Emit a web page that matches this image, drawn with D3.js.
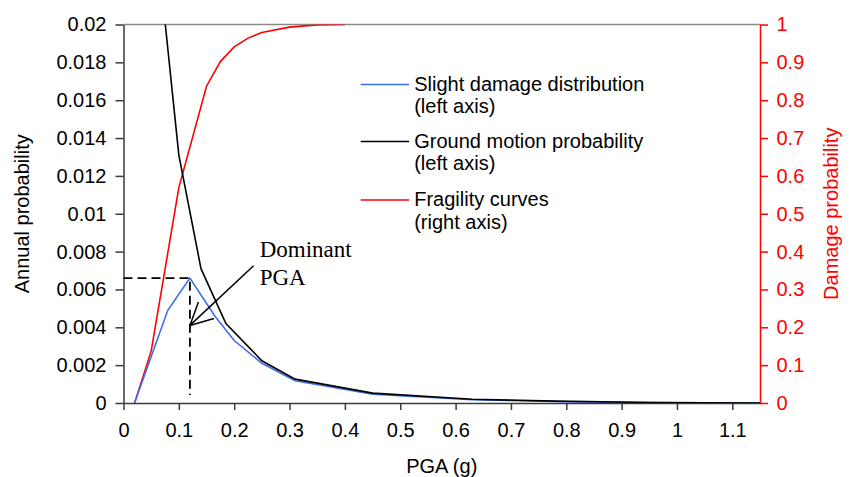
<!DOCTYPE html>
<html>
<head>
<meta charset="utf-8">
<script src="https://cdn.jsdelivr.net/npm/d3@7"></script>
<style>
  body { margin: 0; background: #fff; }
  svg { display: block; font-family: "Liberation Sans", Arial, sans-serif; }
</style>
</head>
<body>
<svg class="chart" width="851" height="477"></svg>
<script>
// values
var slightX = [0.02, 0.08, 0.12, 0.165, 0.2, 0.25, 0.31, 0.45, 0.63, 0.8, 0.95, 1.15];
var slightY = [0, 0.0049, 0.0066, 0.0046, 0.0033, 0.0021, 0.00118, 0.00046, 0.00017, 0.00007, 0.00002, 0];

var groundX = [0.05, 0.1, 0.14, 0.185, 0.25, 0.31, 0.45, 0.63, 0.78, 0.95, 1.15];
var groundY = [0.0272, 0.0131, 0.0071, 0.0042, 0.00223, 0.00126, 0.00052, 0.0002, 0.0001, 0.00003, 0];

var fragX = [0.02, 0.05, 0.1, 0.15, 0.175, 0.2, 0.225, 0.25, 0.3, 0.35, 0.4];
var fragY = [0, 0.137, 0.569, 0.837, 0.902, 0.941, 0.964, 0.979, 0.993, 0.999, 1];

var xTicks = [0, 0.1, 0.2, 0.3, 0.4, 0.5, 0.6, 0.7, 0.8, 0.9, 1, 1.1];
var xLabels = ["0", "0.1", "0.2", "0.3", "0.4", "0.5", "0.6", "0.7", "0.8", "0.9", "1", "1.1"];
var leftTicks = [0, 0.002, 0.004, 0.006, 0.008, 0.01, 0.012, 0.014, 0.016, 0.018, 0.02];
var leftLabels = ["0", "0.002", "0.004", "0.006", "0.008", "0.01", "0.012", "0.014", "0.016", "0.018", "0.02"];
var rightTicks = [0, 0.1, 0.2, 0.3, 0.4, 0.5, 0.6, 0.7, 0.8, 0.9, 1];
var rightLabels = ["0", "0.1", "0.2", "0.3", "0.4", "0.5", "0.6", "0.7", "0.8", "0.9", "1"];

var legendNames = [["Slight damage distribution", "(left axis)"],
                   ["Ground motion probability", "(left axis)"],
                   ["Fragility curves", "(right axis)"]];

var dominant = {x: 0.12, y: 0.0066};

var svg = d3.select("svg.chart"),
    margin = {top: 24.5, right: 91, bottom: 74, left: 123.5},
    width = 851 - margin.left - margin.right,
    height = 477 - margin.top - margin.bottom;

var blue = "#3d6cf0", red = "#ff0000";

var x = d3.scaleLinear().domain([0, 1.15]).range([0, width]);
var yL = d3.scaleLinear().domain([0, 0.02]).range([height, 0]);
var yR = d3.scaleLinear().domain([0, 1]).range([height, 0]);

var g = svg.append("g").attr("transform", "translate(" + margin.left + "," + margin.top + ")");

svg.append("defs").append("clipPath").attr("id", "plot")
  .append("rect").attr("width", width).attr("height", height);

// top frame
g.append("line").attr("x1", 0).attr("x2", width).attr("y1", 0).attr("y2", 0)
  .attr("stroke", "#8a8a8a").attr("stroke-width", 1.6);

// axes
var xAxis = g.append("g").attr("transform", "translate(0," + height + ")")
  .call(d3.axisBottom(x).tickValues(xTicks).tickFormat(function(d, i) { return xLabels[i]; })
        .tickSizeInner(7).tickSizeOuter(0).tickPadding(13));
var lAxis = g.append("g")
  .call(d3.axisLeft(yL).tickValues(leftTicks).tickFormat(function(d, i) { return leftLabels[i]; })
        .tickSizeInner(8).tickSizeOuter(0).tickPadding(9));
var rAxis = g.append("g").attr("transform", "translate(" + width + ",0)")
  .call(d3.axisRight(yR).tickValues(rightTicks).tickFormat(function(d, i) { return rightLabels[i]; })
        .tickSizeInner(8).tickSizeOuter(0).tickPadding(8.5));

[xAxis, lAxis].forEach(function(a) {
  a.selectAll("path, line").attr("stroke", "#3a3a3a").attr("stroke-width", 1.5);
  a.selectAll("text").attr("fill", "#000").attr("font-size", 20).attr("font-family", "Liberation Sans");
});
rAxis.selectAll("path, line").attr("stroke", red).attr("stroke-width", 1.5);
rAxis.selectAll("text").attr("fill", red).attr("font-size", 20).attr("font-family", "Liberation Sans");

// axis titles
g.append("text").attr("transform", "translate(-95," + (height / 2) + ") rotate(-90)")
  .attr("text-anchor", "middle").attr("font-size", 20).text("Annual probability");
g.append("text").attr("transform", "translate(" + (width + 78) + "," + (height / 2) + ") rotate(-90)")
  .attr("text-anchor", "middle").attr("font-size", 20).attr("fill", red).text("Damage probability");
g.append("text").attr("x", width / 2).attr("y", height + 70)
  .attr("text-anchor", "middle").attr("font-size", 20).text("PGA (g)");

// series
function pts(xs, ys) { return xs.map(function(v, i) { return [v, ys[i]]; }); }
var lineL = d3.line().x(function(d) { return x(d[0]); }).y(function(d) { return yL(d[1]); });
var lineR = d3.line().x(function(d) { return x(d[0]); }).y(function(d) { return yR(d[1]); });

var plot = g.append("g").attr("clip-path", "url(#plot)");
plot.append("path").datum(pts(fragX, fragY)).attr("d", lineR)
  .attr("fill", "none").attr("stroke", red).attr("stroke-width", 1.6);
plot.append("path").datum(pts(slightX, slightY)).attr("d", lineL)
  .attr("fill", "none").attr("stroke", blue).attr("stroke-width", 1.6);
plot.append("path").datum(pts(groundX, groundY)).attr("d", lineL)
  .attr("fill", "none").attr("stroke", "#000").attr("stroke-width", 1.6);

// dominant PGA markers
g.append("path")
  .attr("d", "M0," + yL(dominant.y) + "H" + x(dominant.x) + "V" + (height - 8))
  .attr("fill", "none").attr("stroke", "#000").attr("stroke-width", 1.8)
  .attr("stroke-dasharray", "9,5");

var tip = [x(dominant.x), yL(0.0041)], tail = [x(0.235), yL(0.00725)];
var ang = Math.atan2(tail[1] - tip[1], tail[0] - tip[0]);
g.append("line").attr("x1", tail[0]).attr("y1", tail[1]).attr("x2", tip[0]).attr("y2", tip[1])
  .attr("stroke", "#000").attr("stroke-width", 1.5);
[-0.47, 0.47].forEach(function(da) {
  g.append("line").attr("x1", tip[0]).attr("y1", tip[1])
    .attr("x2", tip[0] + 25 * Math.cos(ang + da)).attr("y2", tip[1] + 25 * Math.sin(ang + da))
    .attr("stroke", "#000").attr("stroke-width", 1.5);
});

var ann = g.append("text").attr("font-family", "Liberation Serif").attr("font-size", 23);
ann.append("tspan").attr("x", x(0.246)).attr("y", yL(0.00773)).text("Dominant");
ann.append("tspan").attr("x", x(0.246)).attr("dy", 28.3).text("PGA");

// legend
var legend = g.append("g").attr("transform", "translate(" + (360.7 - margin.left) + "," + (90.5 - margin.top) + ")");
var lcol = [blue, "#000", red];
var rowY = [0, 57, 115.5];
legendNames.forEach(function(n, i) {
  var row = legend.append("g").attr("transform", "translate(0," + rowY[i] + ")");
  row.append("line").attr("x1", 0).attr("x2", 48.5).attr("y1", -6).attr("y2", -6)
    .attr("stroke", lcol[i]).attr("stroke-width", 1.6);
  var t = row.append("text").attr("font-size", 20);
  t.selectAll("tspan").data(n).enter().append("tspan")
    .attr("x", 53.5).attr("y", function(d, j) { return j * 22.8; })
    .text(function(d) { return d; });
});
</script>
</body>
</html>
